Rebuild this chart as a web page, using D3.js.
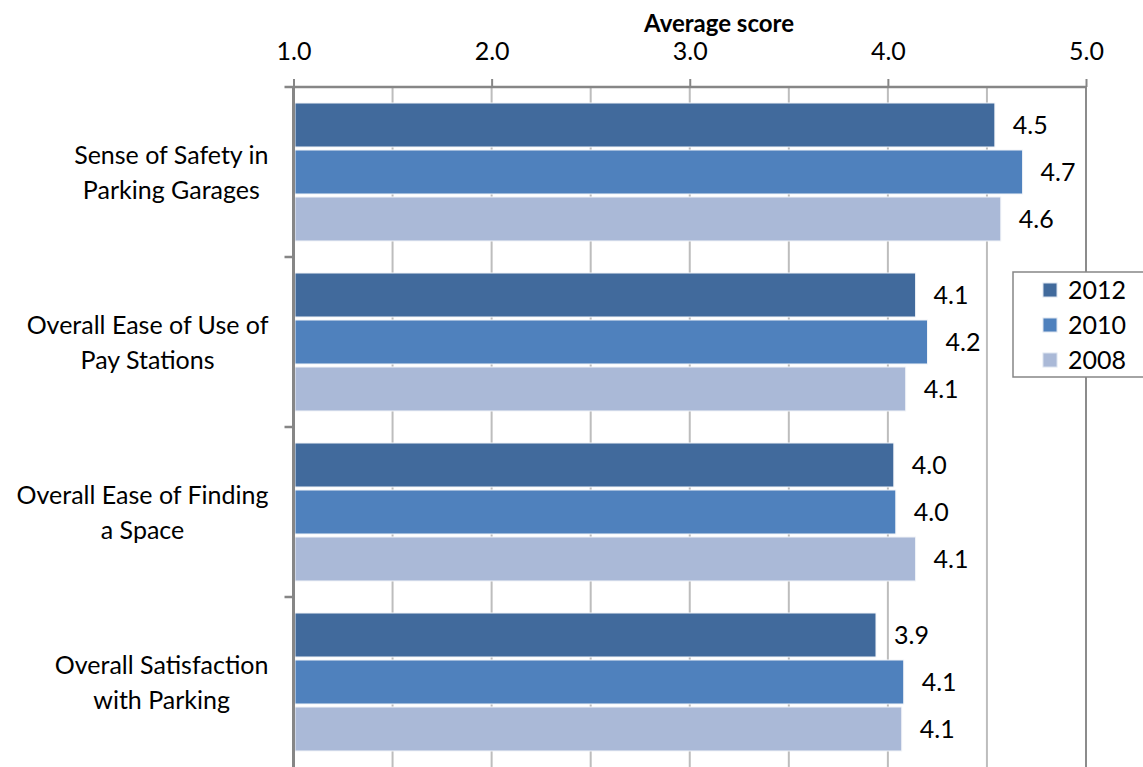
<!DOCTYPE html>
<html>
<head>
<meta charset="utf-8">
<script src="https://cdn.jsdelivr.net/npm/d3@7"></script>
<style>
  html, body { margin: 0; padding: 0; background: #fff; }
  svg { display: block; }
  text { font-family: Lato, "Open Sans", sans-serif; fill: #000; }
</style>
</head>
<body>
<svg id="chart" width="1143" height="767"></svg>
<script>
// Survey items (top to bottom) and their average scores by survey year
const categories = [
  ["Sense of Safety in", "Parking Garages"],
  ["Overall Ease of Use of", "Pay Stations"],
  ["Overall Ease of Finding", "a Space"],
  ["Overall Satisfaction", "with Parking"]
];
const years = ["2012", "2010", "2008"];
const scores2012 = [4.54, 4.14, 4.03, 3.94];
const scores2010 = [4.68, 4.20, 4.04, 4.08];
const scores2008 = [4.57, 4.09, 4.14, 4.07];
const seriesColors = ["#416A9C", "#4F81BD", "#AAB9D7"];
const tickValues = [1, 2, 3, 4, 5];
const gridValues = [1.5, 2, 2.5, 3, 3.5, 4, 4.5];
const axisTitle = "Average score";

const series = [scores2012, scores2010, scores2008];
const svg = d3.select("#chart");

const plot = { left: 293.5, right: 1086, top: 87, bottom: 767 };
const fontSize = 25;

const x = d3.scaleLinear().domain([1, 5]).range([plot.left, plot.right]);
const catIdx = categories.map((_, i) => i);
const y = d3.scaleBand().domain(catIdx).range([plot.top, plot.bottom]).padding(0);
const yInner = d3.scaleBand().domain(years)
  .range([16, y.bandwidth() - 16])
  .paddingInner(3 / 47);

// Vertical gridlines
svg.append("g").selectAll("line").data(gridValues).join("line")
  .attr("x1", d => x(d)).attr("x2", d => x(d))
  .attr("y1", plot.top).attr("y2", plot.bottom)
  .attr("stroke", "#BDBDBD").attr("stroke-width", 2);

// Right border of plot area
svg.append("line")
  .attr("x1", plot.right).attr("x2", plot.right)
  .attr("y1", plot.top).attr("y2", plot.bottom)
  .attr("stroke", "#8C8C8C").attr("stroke-width", 2);

// Bars
const groups = svg.append("g").selectAll("g").data(catIdx).join("g")
  .attr("transform", i => `translate(0,${y(i)})`);

groups.selectAll("rect")
  .data(i => years.map((yr, k) => ({ yr, k, v: series[k][i] })))
  .join("rect")
  .attr("x", x(1) + 1.5)
  .attr("y", d => yInner(d.yr))
  .attr("width", d => x(d.v) - x(1) - 1.5)
  .attr("height", yInner.bandwidth())
  .attr("fill", d => seriesColors[d.k])
  .attr("stroke", "#F2F4F8").attr("stroke-width", 1);

// Value labels
const fmt = d3.format(".1f");
groups.selectAll("text.val")
  .data(i => years.map((yr, k) => ({ yr, k, v: series[k][i] })))
  .join("text")
  .attr("class", "val")
  .attr("x", d => x(d.v) + 18)
  .attr("y", d => yInner(d.yr) + yInner.bandwidth() / 2)
  .attr("dy", "0.36em")
  .attr("font-size", fontSize)
  .text(d => fmt(d.v));

// Top value axis
const topAxis = svg.append("g").attr("transform", `translate(0,${plot.top})`)
  .call(d3.axisTop(x).tickValues(tickValues).tickFormat(d3.format(".1f"))
    .tickSize(8).tickPadding(19));
topAxis.select(".domain").attr("stroke", "#868686").attr("stroke-width", 2.5)
  .attr("d", `M${plot.left - 9},0H${plot.right}`);
topAxis.selectAll(".tick line").attr("stroke", "#868686").attr("stroke-width", 2);
topAxis.selectAll(".tick text")
  .attr("font-size", fontSize).attr("fill", "#000")
  .style("font-family", "Lato, 'Open Sans', sans-serif");

// Axis title
svg.append("text")
  .attr("x", 719).attr("y", 32)
  .attr("text-anchor", "middle")
  .attr("font-size", 24).attr("font-weight", "bold")
  .text(axisTitle);

// Left category axis with ticks at category boundaries
const boundaries = catIdx.map(i => y(i)).concat([plot.bottom]);
svg.append("line")
  .attr("x1", plot.left).attr("x2", plot.left)
  .attr("y1", plot.top).attr("y2", plot.bottom)
  .attr("stroke", "#868686").attr("stroke-width", 3);
svg.append("g").selectAll("line").data(boundaries.slice(1, 4)).join("line")
  .attr("x1", plot.left - 9).attr("x2", plot.left)
  .attr("y1", d => d).attr("y2", d => d)
  .attr("stroke", "#868686").attr("stroke-width", 2.5);

// Category labels: two centred lines, block right-aligned next to the axis
const labelRight = plot.left - 25;
groups.each(function (i) {
  const g = d3.select(this);
  const t = g.append("text").attr("font-size", fontSize).attr("text-anchor", "middle");
  const lines = categories[i];
  const spans = lines.map((s, j) => t.append("tspan").text(s)
    .attr("y", y.bandwidth() / 2 + (j - (lines.length - 1) / 2) * 35)
    .attr("dy", "0.36em"));
  const w = d3.max(spans, s => s.node().getComputedTextLength());
  spans.forEach(s => s.attr("x", labelRight - w / 2));
});

// Legend
const legend = svg.append("g").attr("transform", "translate(1013,272)");
legend.append("rect")
  .attr("x", 0).attr("y", 0).attr("width", 140).attr("height", 105)
  .attr("fill", "#fff").attr("stroke", "#868686").attr("stroke-width", 1.5);
const items = legend.selectAll("g").data(years).join("g")
  .attr("transform", (d, k) => `translate(0,${18 + k * 35})`);
items.append("rect")
  .attr("x", 30).attr("y", -7).attr("width", 14).attr("height", 14)
  .attr("fill", (d, k) => seriesColors[k])
  .attr("stroke", "#DCE3EF").attr("stroke-width", 1);
items.append("text")
  .attr("x", 55).attr("y", 0).attr("dy", "0.36em")
  .attr("font-size", fontSize)
  .text(d => d);
</script>
</body>
</html>
